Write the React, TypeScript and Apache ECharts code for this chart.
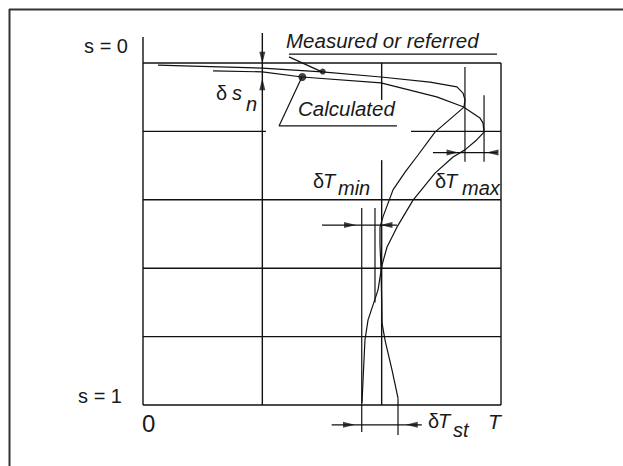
import React, { useEffect, useRef } from "react";
import * as echarts from "echarts";

// Grid segments (data units: T horizontally 0..3, s vertically 0..1)
const hGridS = [0, 0.2, 0.2, 0.4, 0.6, 0.8, 1.0];
const hGridFrom = [0, 0, 2.246, 0, 0, 0, 0];
const hGridTo = [3, 1.03, 3, 3, 3, 3, 3];
const vGridT = [0, 1, 2, 2, 3];
const vGridFrom = [-0.076, -0.088, 0, 0.284, 0];
const vGridTo = [1, 1, 0.108, 1, 1];

// Curves
const measuredT = [0.126, 0.411, 1.0, 1.5, 1.994, 2.405, 2.631, 2.682, 2.698, 2.69, 2.447, 2.305, 2.196, 2.095, 2.011, 1.986, 1.986, 1.994, 2.0, 2.003, 2.028, 2.087, 2.137];
const measuredS = [0.006, 0.009, 0.015, 0.026, 0.041, 0.056, 0.07, 0.088, 0.108, 0.129, 0.202, 0.269, 0.319, 0.371, 0.45, 0.48, 0.532, 0.599, 0.693, 0.76, 0.81, 0.898, 0.98];
const calcT = [0.587, 1.0, 1.332, 1.994, 2.461, 2.682, 2.824, 2.849, 2.858, 2.796, 2.698, 2.598, 2.447, 2.263, 2.128, 2.045, 2.003, 1.969, 1.886, 1.86, 1.844, 1.835];
const calcS = [0.023, 0.026, 0.041, 0.058, 0.099, 0.128, 0.161, 0.175, 0.202, 0.225, 0.254, 0.275, 0.322, 0.401, 0.48, 0.538, 0.591, 0.664, 0.751, 0.81, 0.927, 0.994];

// Marked points [T, s, size]
const pointT = [1.506, 1.335];
const pointS = [0.025, 0.041];
const pointSize = [6, 8];

// Dimension / leader segments [T1, s1, T2, s2]
const segT1 = [2.698, 2.858, 2.43, 1.833, 1.944, 1.5, 2.137, 1.581, 1.223, 1.223, 1.332, 1.14];
const segS1 = [0.012, 0.094, 0.262, 0.424, 0.424, 0.474, 0.98, 1.058, -0.018, -0.026, 0.041, 0.184];
const segT2 = [2.698, 2.858, 2.967, 1.833, 1.944, 2.128, 2.137, 2.336, 1.5, 2.967, 1.14, 2.128];
const segS2 = [0.289, 0.289, 0.262, 1.079, 0.7, 0.474, 1.088, 1.058, 0.026, -0.026, 0.184, 0.184];

// Arrow heads [T, s, rotation]
const arrowT = [1.0, 1.0, 2.594, 2.929, 1.735, 2.04, 1.726, 2.252];
const arrowS = [-0.015, 0.062, 0.262, 0.262, 0.474, 0.474, 1.058, 1.058];
const arrowRot = [180, 0, -90, 90, -90, 90, -90, 90];

const INK = "#111";
const FONT = '"Liberation Sans", Arial, sans-serif';

export default function App() {
  const ref = useRef<HTMLDivElement>(null);
  useEffect(() => {
    if (!ref.current) return;
    const chart = echarts.init(ref.current, null, { renderer: "svg" });
    const seg = (data: number[][], w: number, name: string) => ({
      type: "line",
      name,
      data,
      showSymbol: false,
      symbol: "none",
      clip: false,
      silent: true,
      lineStyle: { color: INK, width: w },
      z: 2,
    });
    const series: any[] = [];
    hGridS.forEach((s, i) => series.push(seg([[hGridFrom[i], s], [hGridTo[i], s]], 1.4, "h" + i)));
    vGridT.forEach((t, i) => series.push(seg([[t, vGridFrom[i]], [t, vGridTo[i]]], 1.4, "v" + i)));
    series.push(seg(measuredT.map((t, i) => [t, measuredS[i]]), 1.2, "measured"));
    series.push(seg(calcT.map((t, i) => [t, calcS[i]]), 1.2, "calculated"));
    segT1.forEach((t, i) => series.push(seg([[t, segS1[i]], [segT2[i], segS2[i]]], 1.2, "d" + i)));
    series.push({
      type: "scatter",
      silent: true,
      clip: false,
      symbol: "circle",
      itemStyle: { color: INK },
      data: pointT.map((t, i) => ({ value: [t, pointS[i]], symbolSize: pointSize[i] })),
      z: 5,
    });
    series.push({
      type: "scatter",
      silent: true,
      clip: false,
      symbol: "triangle",
      symbolSize: [6, 12],
      itemStyle: { color: INK },
      data: arrowT.map((t, i) => ({ value: [t, arrowS[i]], symbolRotate: arrowRot[i] })),
      z: 5,
    });

    const txt = (text: string, x: number, y: number, size: number, italic: boolean, align = "left") => ({
      type: "text",
      x,
      y,
      silent: true,
      style: {
        text,
        fill: "#1a1a1a",
        font: `${italic ? "italic " : ""}${size}px ${FONT}`,
        textAlign: align,
        textVerticalAlign: "middle",
      },
    });

    chart.setOption({
      animation: false,
      backgroundColor: "#fff",
      grid: { left: 143, right: 122, top: 63, bottom: 61 },
      xAxis: { type: "value", min: 0, max: 3, show: false },
      yAxis: { type: "value", min: 0, max: 1, inverse: true, show: false },
      series,
      graphic: [
        { type: "line", shape: { x1: 9, y1: 9.5, x2: 623, y2: 9.5 }, style: { stroke: "#333", lineWidth: 2 } },
        { type: "line", shape: { x1: 9.5, y1: 9, x2: 9.5, y2: 466 }, style: { stroke: "#333", lineWidth: 2 } },
        txt("Measured or referred", 286, 40, 20.5, true),
        txt("Calculated", 298, 108, 20.5, true),
        txt("s = 0", 128, 46, 20, false, "right"),
        txt("s = 1", 122, 396, 20, false, "right"),
        txt("0", 142, 423, 24, false),
        txt("T", 488, 421, 21, true),
        txt("δ", 216, 93, 20, false),
        txt("s", 232, 93, 20, true),
        txt("n", 246, 104, 20, true),
        txt("δ", 313, 181, 20, false),
        txt("T", 323, 181, 20, true),
        txt("min", 338, 188, 20, true),
        txt("δ", 435, 181, 20, false),
        txt("T", 445, 181, 20, true),
        txt("max", 462, 188, 20, true),
        txt("δ", 428, 421, 20, false),
        txt("T", 438, 421, 20, true),
        txt("st", 453, 430, 20, true),
      ],
    });
    return () => chart.dispose();
  }, []);
  return (
    <div
      ref={ref}
      style={{ position: "fixed", left: 0, top: 0, width: 623, height: 466, background: "#fff" }}
    />
  );
}
